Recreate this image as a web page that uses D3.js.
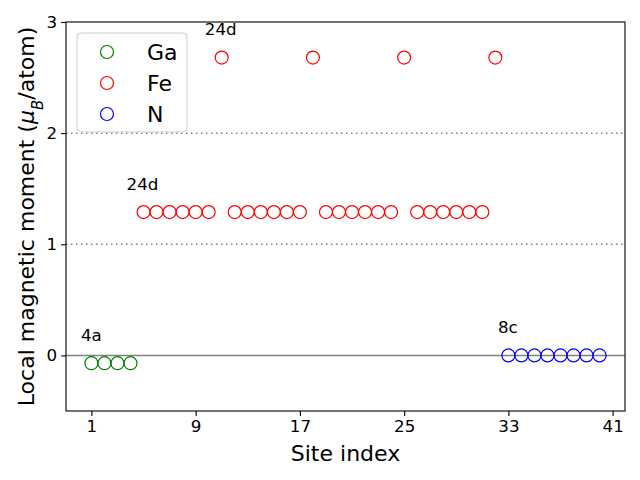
<!DOCTYPE html>
<html>
<head>
<meta charset="utf-8">
<script src="https://cdn.jsdelivr.net/npm/d3@7"></script>
<style>
  body { margin: 0; background: #fff; }
  svg text { font-family: "DejaVu Sans", sans-serif; }
</style>
</head>
<body>
<div id="chart"></div>
<script>
// site index / moment per species
var gaSites = [1, 2, 3, 4];
var gaMoments = [-0.07, -0.07, -0.07, -0.07];

var feSites = [5, 6, 7, 8, 9, 10, 11, 12, 13, 14, 15, 16, 17, 18, 19, 20, 21, 22, 23, 24, 25, 26, 27, 28, 29, 30, 31, 32];
var feMoments = [1.29, 1.29, 1.29, 1.29, 1.29, 1.29, 2.68, 1.29, 1.29, 1.29, 1.29, 1.29, 1.29, 2.68,
                 1.29, 1.29, 1.29, 1.29, 1.29, 1.29, 2.68, 1.29, 1.29, 1.29, 1.29, 1.29, 1.29, 2.68];

var nSites = [33, 34, 35, 36, 37, 38, 39, 40];
var nMoments = [0, 0, 0, 0, 0, 0, 0, 0];

var xTicks = [1, 9, 17, 25, 33, 41];
var yTicks = [0, 1, 2, 3];

var wyckoffLabels = ["24d", "24d", "4a", "8c"];
var wyckoffX = [9.7, 3.7, 0.2, 32.2];
var wyckoffY = [2.88, 1.49, 0.13, 0.2];

var series = [
    { name: "Ga", color: "green", sites: gaSites, values: gaMoments },
    { name: "Fe", color: "red", sites: feSites, values: feMoments },
    { name: "N", color: "blue", sites: nSites, values: nMoments }
];

var margin = { top: 22, right: 15, bottom: 69, left: 66 },
    width = 640 - margin.left - margin.right,
    height = 480 - margin.top - margin.bottom;

var x = d3.scaleLinear().domain([-0.95, 41.95]).range([0, width]);
var y = d3.scaleLinear().domain([-0.5, 3]).range([height, 0]);

var svg = d3.select("#chart").append("svg")
    .attr("width", 640)
    .attr("height", 480)
    .append("g")
    .attr("transform", "translate(" + margin.left + "," + margin.top + ")");

// reference lines
svg.append("line")
    .attr("x1", 0).attr("x2", width)
    .attr("y1", y(0)).attr("y2", y(0))
    .style("stroke", "grey").style("stroke-width", 1.5);

[1, 2].forEach(function(v) {
    svg.append("line")
        .attr("x1", 0).attr("x2", width)
        .attr("y1", y(v)).attr("y2", y(v))
        .style("stroke", "grey").style("stroke-width", 1.5)
        .style("stroke-dasharray", "1.5,3.5");
});

// markers
series.forEach(function(s) {
    svg.selectAll(null)
        .data(s.sites)
        .enter().append("circle")
        .attr("cx", function(d) { return x(d); })
        .attr("cy", function(d, i) { return y(s.values[i]); })
        .attr("r", 6.5)
        .style("fill", "none")
        .style("stroke", s.color)
        .style("stroke-width", 1.2);
});

// wyckoff labels
svg.selectAll(null)
    .data(wyckoffLabels)
    .enter().append("text")
    .attr("x", function(d, i) { return x(wyckoffX[i]); })
    .attr("y", function(d, i) { return y(wyckoffY[i]); })
    .style("font-size", "16.7px")
    .text(function(d) { return d; });

// axes
var xAxis = svg.append("g")
    .attr("transform", "translate(0," + height + ")")
    .call(d3.axisBottom(x).tickValues(xTicks).tickSize(4.9).tickPadding(4));

var yAxis = svg.append("g")
    .call(d3.axisLeft(y).tickValues(yTicks).tickFormat(d3.format("d")).tickSize(4.9).tickPadding(4));

[xAxis, yAxis].forEach(function(a) {
    a.select(".domain").remove();
    a.selectAll("text").style("font-size", "16.7px").style("font-family", "DejaVu Sans").attr("fill", "#000");
    a.selectAll("line").style("stroke", "#000").style("stroke-width", 1.1);
});

svg.append("rect")
    .attr("width", width).attr("height", height)
    .style("fill", "none").style("stroke", "#000").style("stroke-width", 1.1);

svg.append("text")
    .attr("x", width / 2)
    .attr("y", height + 50)
    .attr("text-anchor", "middle")
    .style("font-size", "22px")
    .text("Site index");

var ylab = svg.append("text")
    .attr("transform", "translate(" + (-32) + "," + (height / 2) + ") rotate(-90)")
    .attr("text-anchor", "middle")
    .style("font-size", "22px");
ylab.append("tspan").text("Local magnetic moment (");
ylab.append("tspan").style("font-style", "italic").text("μ");
ylab.append("tspan").attr("baseline-shift", "sub").style("font-size", "15px").style("font-style", "italic").text("B");
ylab.append("tspan").text("/atom)");

// legend
var legend = svg.append("g").attr("transform", "translate(11,11)");
legend.append("rect")
    .attr("width", 110).attr("height", 99)
    .attr("rx", 4)
    .style("fill", "#fff").style("fill-opacity", 0.8)
    .style("stroke", "#ccc").style("stroke-width", 1);

series.forEach(function(s, i) {
    var row = legend.append("g").attr("transform", "translate(0," + (19 + i * 31) + ")");
    row.append("circle")
        .attr("cx", 30).attr("cy", 0).attr("r", 6.5)
        .style("fill", "none").style("stroke", s.color).style("stroke-width", 1.2);
    row.append("text")
        .attr("x", 70).attr("y", 8)
        .style("font-size", "22px")
        .text(s.name);
});
</script>
</body>
</html>
